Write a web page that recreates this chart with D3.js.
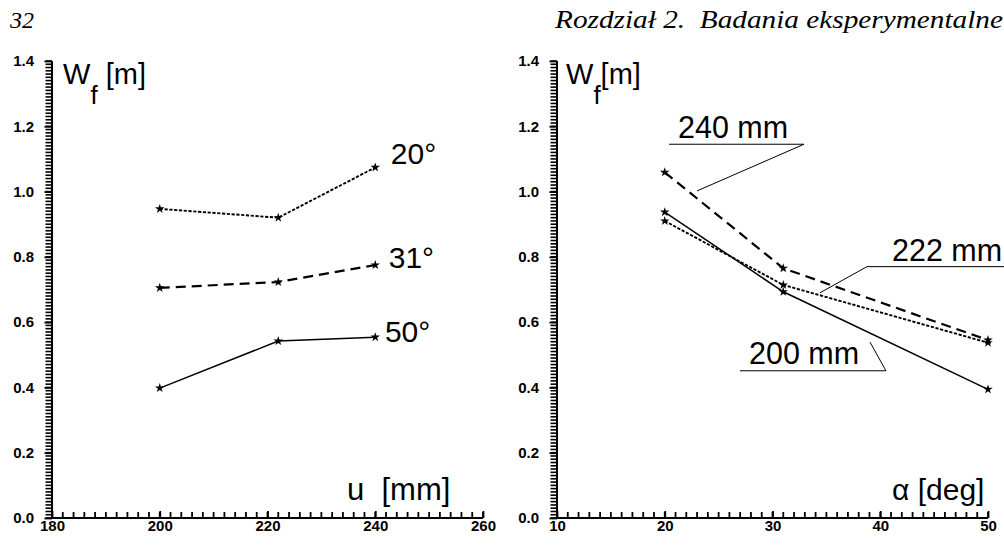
<!DOCTYPE html>
<html><head><meta charset="utf-8">
<script src="https://cdn.jsdelivr.net/npm/d3@7"></script>
<style>
html,body{margin:0;padding:0;background:#fff;}
svg{display:block;}
text{font-family:"Liberation Sans",Arial,Helvetica,sans-serif;fill:#000;}
.tick text{font-family:"Liberation Sans",Arial,sans-serif;font-weight:bold;font-size:15px;}
</style>
</head><body>
<svg id="chart" width="1004" height="545"></svg>
<script>
// ---- data ----
const uValues = [200, 222, 240];            // u [mm]
const alphaValues = [20, 31, 50];           // alpha [deg]
// left chart: Wf vs u for each angle
const wfAlpha20 = [0.947, 0.920, 1.074];
const wfAlpha31 = [0.705, 0.723, 0.775];
const wfAlpha50 = [0.398, 0.542, 0.554];
// right chart: Wf vs alpha for each u
const wfU200 = [0.937, 0.693, 0.394];
const wfU222 = [0.910, 0.714, 0.537];
const wfU240 = [1.059, 0.765, 0.545];
const yTicks = [0.0, 0.2, 0.4, 0.6, 0.8, 1.0, 1.2, 1.4];
const xTicksU = [180, 200, 220, 240, 260];
const xTicksAlpha = [10, 20, 30, 40, 50];
const leftLabels = ["20°", "31°", "50°"];
const rightLabels = ["200 mm", "222 mm", "240 mm"];
const pageNumber = "32";
const chapterTitle = "Rozdział 2.  Badania eksperymentalne";

// ---- layout ----
const svg = d3.select("#chart");
svg.append("rect").attr("width",1004).attr("height",545).attr("fill","#fff");

const y = d3.scaleLinear().domain([0,1.4]).range([518,61]);
const xL = d3.scaleLinear().domain([180,260]).range([52,483]);
const xR = d3.scaleLinear().domain([10,50]).range([557,988]);

const styles = {
  dotted: {w:1.9, dash:"3.2,1.6"},
  dashed: {w:2.2, dash:"10,6"},
  solid:  {w:1.5, dash:null}
};

function drawAxes(x, xticks, minorStepX){
  const g = svg.append("g");
  const x0 = x.range()[0];
  // y minor ticks (every 0.01)
  const yMinor = d3.range(0, 141).map(i=>i/100);
  g.append("g").attr("class","yminor").selectAll("line").data(yMinor).enter().append("line")
    .attr("x1",x0-6.5).attr("x2",x0)
    .attr("y1",d=>y(d)).attr("y2",d=>y(d))
    .style("stroke","#000").style("stroke-width","1.6px");
  g.append("g").attr("transform",`translate(${x0},0)`)
    .call(d3.axisLeft(y).tickValues(yTicks).tickSize(7.5).tickPadding(10.5).tickFormat(d3.format(".1f")))
    .call(a=>a.select(".domain").attr("stroke","#000").attr("stroke-width",2).attr("d",`M0,${y(1.4)}V${y(0)}`))
    .call(a=>a.selectAll("line").attr("stroke","#000").attr("stroke-width",1.8));
  // x minor ticks
  const d = x.domain();
  const nx = Math.round((d[1]-d[0])/minorStepX);
  const xMinor = d3.range(0, nx+1).map(i=>d[0]+i*minorStepX);
  g.append("g").selectAll("line").data(xMinor).enter().append("line")
    .attr("x1",v=>x(v)).attr("x2",v=>x(v))
    .attr("y1",y(0)).attr("y2",y(0)-6)
    .style("stroke","#000").style("stroke-width","1.8px");
  g.append("g").attr("transform",`translate(0,${y(0)})`)
    .call(d3.axisBottom(x).tickValues(xticks).tickSize(-7).tickPadding(2).tickFormat(d3.format("d")))
    .call(a=>a.select(".domain").attr("stroke","#000").attr("stroke-width",2).attr("d",`M${x0},0H${x.range()[1]}`))
    .call(a=>a.selectAll("line").attr("stroke","#000").attr("stroke-width",1.8));
}

function drawSeries(x, xs, ys, st){
  const line = d3.line().x((d,i)=>x(xs[i])).y(d=>y(d));
  svg.append("path").datum(ys).attr("d",line).attr("fill","none")
    .attr("stroke","#000").attr("stroke-width",st.w)
    .attr("stroke-dasharray",st.dash);
  svg.selectAll(null).data(ys).enter().append("path")
    .attr("transform",(d,i)=>`translate(${x(xs[i])},${y(d)})`)
    .attr("d",d3.symbol(d3.symbolStar,28)).attr("fill","#000");
}

drawAxes(xL, xTicksU, 2);
drawAxes(xR, xTicksAlpha, 1);

drawSeries(xL, uValues, wfAlpha20, styles.dotted);
drawSeries(xL, uValues, wfAlpha31, styles.dashed);
drawSeries(xL, uValues, wfAlpha50, styles.solid);

drawSeries(xR, alphaValues, wfU200, styles.solid);
drawSeries(xR, alphaValues, wfU222, styles.dotted);
drawSeries(xR, alphaValues, wfU240, styles.dashed);

// header
svg.append("text").attr("x",10).attr("y",28).text(pageNumber)
  .style("font-family","'Liberation Serif','Times New Roman',serif").style("font-style","italic").style("font-size","24px");
svg.append("text").attr("x",555).attr("y",28).attr("xml:space","preserve")
  .attr("textLength",448).attr("lengthAdjust","spacingAndGlyphs").text(chapterTitle)
  .style("font-family","'Liberation Serif','Times New Roman',serif").style("font-style","italic").style("font-size","25px");

// axis titles
function yTitle(x0, gap){
  const t = svg.append("text").attr("x",x0).attr("y",84).style("font-size","29px").attr("xml:space","preserve");
  t.append("tspan").text("W");
  t.append("tspan").attr("dy",20).style("font-size","26px").text("f");
  t.append("tspan").attr("dy",-20).text(gap ? " [m]" : "[m]");
}
yTitle(xL(180)+11, true);
yTitle(xR(10)+9, false);

svg.append("text").attr("x",347).attr("y",500).style("font-size","31px").attr("xml:space","preserve").text("u  [mm]");
svg.append("text").attr("x",892).attr("y",500).style("font-size","30px").text("α [deg]");

// left curve labels (positioned in data units)
const leftLabelPos = [[242.9,1.084],[242.5,0.766],[241.8,0.539]];
leftLabels.forEach((s,i)=>{
  svg.append("text").attr("x",xL(leftLabelPos[i][0])).attr("y",y(leftLabelPos[i][1]))
    .style("font-size","30px").text(s);
});

// right curve labels with underline and leader (data units)
const rightAnno = [
  {text:rightLabels[0], tx:27.82, ty:0.472, ux0:26.98, ux1:40.53, uy:0.451, lx:39.05, ly:0.539, from:1},
  {text:rightLabels[1], tx:41.09, ty:0.787, ux0:38.77, ux1:51.6, uy:0.770, lx:34.41, ly:0.690, from:0},
  {text:rightLabels[2], tx:21.23, ty:1.164, ux0:20.4, ux1:32.92, uy:1.145, lx:23.0, ly:1.002, from:1}
];
rightAnno.forEach(a=>{
  svg.append("text").attr("x",xR(a.tx)).attr("y",y(a.ty)).style("font-size","30.5px").text(a.text);
  const ax = a.from ? xR(a.ux1) : xR(a.ux0);
  svg.append("path")
    .attr("d",`M${xR(a.ux0)},${y(a.uy)}H${xR(a.ux1)}M${ax},${y(a.uy)}L${xR(a.lx)},${y(a.ly)}`)
    .attr("fill","none").attr("stroke","#000").attr("stroke-width",1);
});
</script>
</body></html>
